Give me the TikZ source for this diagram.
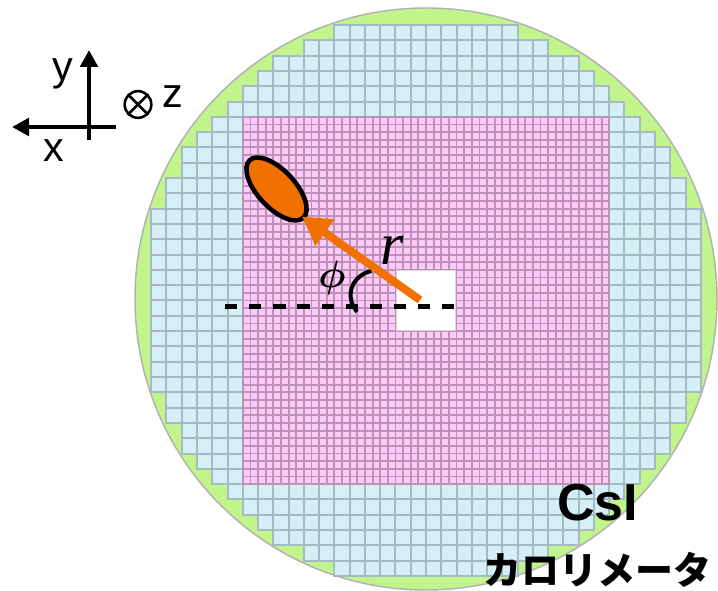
\documentclass[tikz,border=0pt]{standalone}
\usepackage{fontspec}
\setmainfont{Liberation Sans}
\newfontfamily\jpfont{Noto Sans CJK JP}
\newfontfamily\radfont{Liberation Serif}
\usetikzlibrary{arrows.meta,shapes.geometric}
\definecolor{ringgreen}{HTML}{C1F58B}
\definecolor{cellblue}{HTML}{D5EFF9}
\definecolor{cellpink}{HTML}{FFC9FB}
\definecolor{spotorange}{HTML}{F07000}
\tikzset{
  vessel/.style={fill=ringgreen,draw=black!30,line width=1.1pt},
  coarsecell/.style={fill=cellblue},
  coarsegrid/.style={draw=black!22!cellblue,line width=1.5pt},
  finegrid/.style={draw=black!27!cellpink,line width=1.4pt},
  axisline/.style={-{Triangle[length=12.75pt,width=13pt]},line width=3.6pt},
  axislbl/.style={font=\fontsize{31}{31}\selectfont,inner sep=0pt,anchor=base},
  radial/.style={-{Triangle[length=21pt,width=23pt]},draw=spotorange,fill=spotorange,line width=6pt},
  spotshape/.style={ellipse,draw=black,fill=spotorange,line width=3.4pt,inner sep=0pt,
    minimum width=59pt,minimum height=28pt,rotate=-47},
}
\begin{document}
\begin{tikzpicture}[x=0.75pt,y=-0.75pt]
  \useasboundingbox (0,0) rectangle (718,591);
  % outer circle, centre and radius read off in pixels
  \fill[white] (0,0) rectangle (718,591);
  \path[vessel] (426,299) circle (291);
  % --- coarse crystals, half width of each row counted in cells ---
  \begin{scope}[shift={(426,300.5)},x=11.45pt,y=-11.48pt]
    \foreach \hw [count=\i] in {6,8,10,11,12,13,14,15,16,16,17,17,18,18,18,18,18,18} {
      \fill[coarsecell] (-\hw,\i-19) rectangle (\hw,\i-18);
      \fill[coarsecell] (-\hw,18-\i) rectangle (\hw,19-\i);
      \draw[coarsegrid] (-\hw,\i-19) rectangle (\hw,\i-18);
      \draw[coarsegrid] (-\hw,18-\i) rectangle (\hw,19-\i);
      \foreach \c in {-\hw,...,\hw} {
        \draw[coarsegrid] (\c,\i-19) -- (\c,\i-18);
        \draw[coarsegrid] (\c,18-\i) -- (\c,19-\i);
      }
    }
    % --- fine crystals and the beam hole ---
    \fill[cellpink] (-12,-12) rectangle (12,12);
    \foreach \c in {-12,-11.5,...,12} {
      \draw[finegrid] (\c,-12) -- (\c,12);
      \draw[finegrid] (-12,\c) -- (12,\c);
    }
    \draw[fill=white,draw=black!15,line width=0.6pt] (-1.95,-1.95) rectangle (1.95,1.95);
  \end{scope}
  % --- axes ---
  \coordinate (ybase) at (89,140);
  \coordinate (ytip) at (89,50);
  \coordinate (xbase) at (115.5,127);
  \coordinate (xtip) at (12,127);
  \draw[axisline] (ybase) -- (ytip);
  \draw[axisline] (xbase) -- (xtip);
  \node[axislbl] (ylbl) at (63,81) {y};
  \node[axislbl] (xlbl) at (54,162) {x};
  \node[axislbl] (zlbl) at (172.5,108) {z};
  \node[circle,draw=black,line width=1.9pt,minimum size=20pt,inner sep=0pt] (zsym) at (138,104.5) {};
  \draw[line width=1.9pt] (zsym.45) -- (zsym.225);
  \draw[line width=1.9pt] (zsym.135) -- (zsym.315);
  % --- shower, reference line, angle and radius ---
  \node[spotshape] (spot) at (276.5,189) {};
  \coordinate (dashl) at (225,306.5);
  \coordinate (dashr) at (456,306.5);
  \draw[line width=4pt,dash pattern=on 9.2pt off 8.9pt] (dashl) -- (dashr);
  \coordinate (arcs) at (371.5,271);
  \coordinate (arce) at (357,312);
  \draw[line width=3pt] (arcs) .. controls (356,274) and (342,292) .. (arce);
  \coordinate (rtail) at (420,300);
  \coordinate (rtip) at (302,216.5);
  \draw[radial] (rtail) -- (rtip);
  \node[inner sep=0pt,anchor=base,scale=1.15,font=\Huge\boldmath] (philbl) at (332,288) {$\phi$};
  \node[inner sep=0pt,anchor=base,font=\fontsize{45}{45}\selectfont\radfont\itshape] (rlbl) at (392,265) {r};
  % --- name of the detector ---
  \node[inner sep=0pt,anchor=base,font=\fontsize{39}{39}\selectfont\bfseries] (csilbl) at (597.5,521) {CsI};
  \node[inner sep=0pt,font=\fontsize{28.5}{28.5}\selectfont\jpfont\bfseries] (calolbl) at (597.5,570) {カロリメータ};
\end{tikzpicture}
\end{document}
